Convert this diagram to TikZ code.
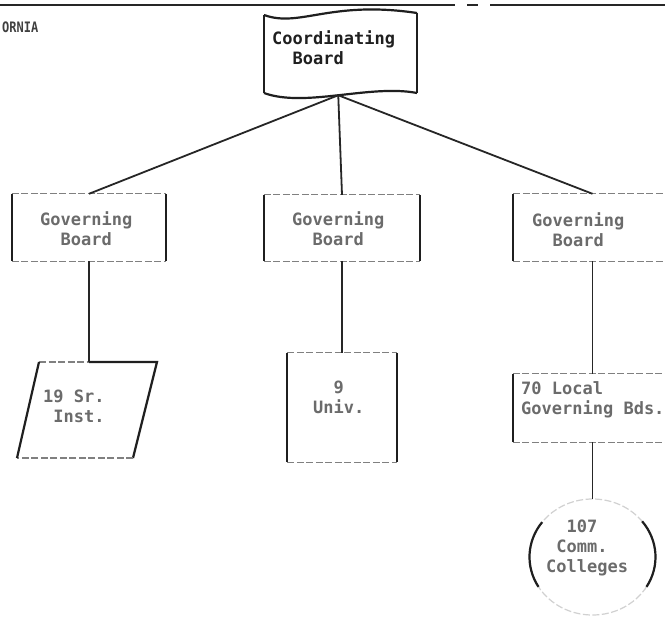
\documentclass[tikz,border=0pt]{standalone}
\usepackage{fontspec}
\usepackage{graphicx}
\newfontfamily\typewr{DejaVu Sans Mono}
\usetikzlibrary{shapes.geometric}

\begin{document}
\begin{tikzpicture}[x=1pt,y=-1pt,
  ink/.style={draw=black!88, line width=2.2pt},
  faint/.style={draw=black!50, line width=1.2pt, dash pattern=on 7pt off 2.5pt},
  wire/.style={draw=black!85, line width=1.8pt},
  box/.style={shape=rectangle, draw=none, inner sep=0pt},
  txt/.style={font=\typewr\bfseries\fontsize{17}{20}\selectfont, text=black!58, align=left, inner sep=0pt, anchor=west},
]
\useasboundingbox (0,0) rectangle (665,627);
\clip (0,0) rectangle (665,627);
\fill[white] (0,0) rectangle (665,627);

% rule across the head of the page
\draw[line width=2.4pt, black!85] (0,5) -- (455,5) (467,5) -- (478,5) (490,5) -- (665,5);
\node[font=\typewr\bfseries\fontsize{12}{14}\selectfont, text=black!75, anchor=west, inner sep=0pt] (state) at (2,27) {\scalebox{1}[1.2]{ORNIA}};

% coordinating board (document shape)
\node[txt, text=black!88] (cb) at (272,48) {Coordinating\\\hphantom{00}Board};
\draw[ink] (264,15) .. controls (300,28) and (330,0) .. (417,13);
\draw[ink] (264,93) .. controls (305,108) and (370,84) .. (417,93) coordinate[pos=0.5] (cbJoin);
\draw[ink] (264,15) -- (264,93);
\draw[ink] (417,13) -- (417,93);

% governing boards
\node[box, minimum width=154pt, minimum height=67pt] (gbL) at (89,227.5) {};
\node[box, minimum width=156pt, minimum height=66pt] (gbM) at (342,228) {};
\node[box, minimum width=158pt, minimum height=67pt] (gbR) at (592.5,227.5) {};
\node[txt] (gbLt) at (40,229) {Governing\\\hphantom{00}Board};
\node[txt] (gbMt) at (292,229) {Governing\\\hphantom{00}Board};
\node[txt] (gbRt) at (532,230) {Governing\\\hphantom{00}Board};

% institutions
\node[box, minimum width=109pt, minimum height=109pt] (univ) at (342,407.5) {};
\node[txt] (univt) at (313,397) {\hphantom{00}9\\Univ.};
\node[box, minimum width=159pt, minimum height=68pt] (local) at (592.5,408) {};
\node[txt] (localt) at (521,400) {70 Local\\Governing Bds.};

\foreach \n in {gbL,gbM,gbR,univ,local}{
  \draw[faint] (\n.north west) -- (\n.north east) (\n.south west) -- (\n.south east);
  \draw[ink] (\n.north west) -- (\n.south west) (\n.north east) -- (\n.south east);
}

% senior institutions (parallelogram)
\coordinate (instTop) at (89,362);
\draw[faint] (39,362) -- (instTop);
\draw[ink] (instTop) -- (157,362) -- (133,458);
\draw[faint] (133,458) -- (17,458);
\draw[ink] (17,458) -- (39,362);
\node[txt] (inst) at (43,406) {19 Sr.\\\hphantom{0}Inst.};

% community colleges (circle)
\node[ellipse, draw=none, inner sep=0pt, minimum width=126pt, minimum height=116pt] (cc) at (592.5,557) {};
\draw[faint, draw=black!18] (cc.center) ellipse [x radius=63pt, y radius=58pt];
\draw[ink] ([shift={(143:63pt and 58pt)}]cc.center) arc[start angle=143, end angle=211, x radius=63pt, y radius=58pt];
\draw[ink] ([shift={(-31:63pt and 58pt)}]cc.center) arc[start angle=-31, end angle=38, x radius=63pt, y radius=58pt];
\node[txt] (cct) at (546,548) {\hphantom{00}107\\\hphantom{0}Comm.\\Colleges};

% connectors
\draw[wire] (cbJoin) -- (gbL.north);
\draw[wire] (cbJoin) -- (gbM.north);
\draw[wire] (cbJoin) -- (gbR.north);
\draw[wire] (gbL.south) -- (instTop);
\draw[wire] (gbM.south) -- (univ.north);
\draw[wire] (gbR.south) -- (local.north);
\draw[wire] (local.south) -- (cc.north);
\end{tikzpicture}
\end{document}
